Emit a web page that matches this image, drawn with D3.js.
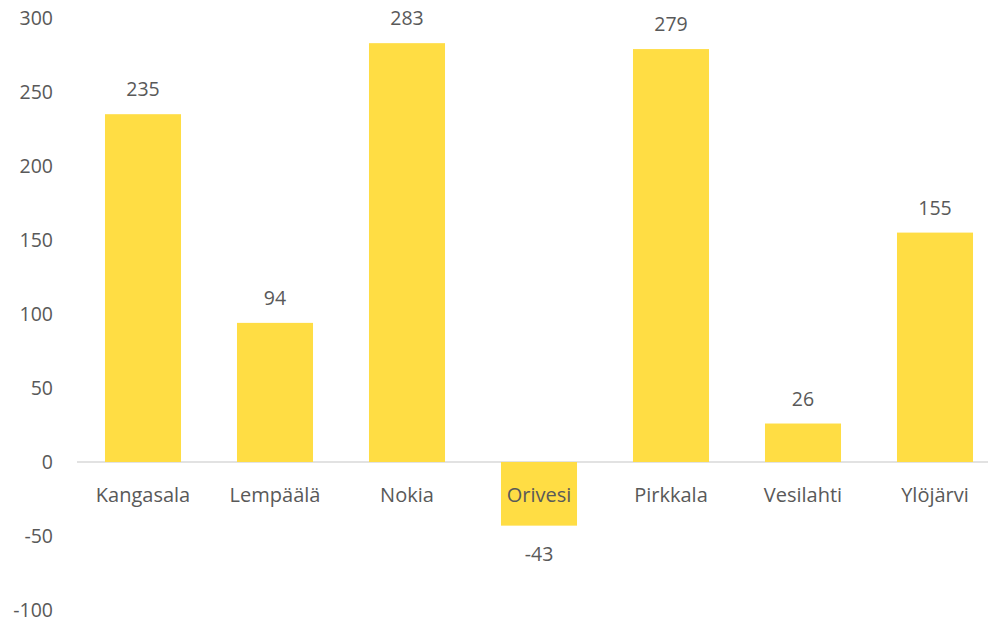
<!DOCTYPE html>
<html>
<head>
<meta charset="utf-8">
<script src="https://cdn.jsdelivr.net/npm/d3@7"></script>
<style>
  body { margin: 0; background: #fff; }
  svg text { font-family: "Open Sans", Lato, sans-serif; fill: #595959; }
</style>
</head>
<body>
<div id="chart"></div>
<script>
// Data
const municipalities = ["Kangasala", "Lempäälä", "Nokia", "Orivesi", "Pirkkala", "Vesilahti", "Ylöjärvi"];
const changes = [235, 94, 283, -43, 279, 26, 155];
const yTicks = [300, 250, 200, 150, 100, 50, 0, -50, -100];

const data = municipalities.map((m, i) => ({ name: m, value: changes[i] }));

// Dimensions
const width = 988, height = 620;
const margin = { top: 18, right: -13, bottom: 10, left: 77 };

const svg = d3.select("#chart")
  .append("svg")
  .attr("width", width)
  .attr("height", height);

// Scales
const xScale = d3.scaleBand()
  .domain(municipalities)
  .range([margin.left, width - margin.right])
  .paddingInner(0.424)
  .paddingOuter(0.212);

const yScale = d3.scaleLinear()
  .domain([-100, 300])
  .range([height - margin.bottom, margin.top]);

// Y tick labels (no axis line)
svg.append("g")
  .selectAll("text")
  .data(yTicks)
  .join("text")
  .attr("x", 53)
  .attr("y", d => yScale(d))
  .attr("dy", "0.35em")
  .attr("text-anchor", "end")
  .style("font-size", "19.5px")
  .text(d => d);

// Zero line
svg.append("line")
  .attr("x1", margin.left)
  .attr("x2", width - margin.right)
  .attr("y1", yScale(0))
  .attr("y2", yScale(0))
  .attr("stroke", "#d9d9d9")
  .attr("stroke-width", 1.5);

// Bars
svg.selectAll(".bar")
  .data(data)
  .join("rect")
  .attr("class", "bar")
  .attr("x", d => xScale(d.name))
  .attr("width", xScale.bandwidth())
  .attr("y", d => yScale(Math.max(0, d.value)))
  .attr("height", d => Math.abs(yScale(d.value) - yScale(0)))
  .attr("fill", "#ffdd44");

// Category labels
svg.append("g")
  .selectAll("text")
  .data(data)
  .join("text")
  .attr("x", d => xScale(d.name) + xScale.bandwidth() / 2)
  .attr("y", yScale(0) + 40)
  .attr("text-anchor", "middle")
  .style("font-size", "20px")
  .text(d => d.name);

// Value labels
svg.append("g")
  .selectAll("text")
  .data(data)
  .join("text")
  .attr("x", d => xScale(d.name) + xScale.bandwidth() / 2)
  .attr("y", d => d.value >= 0 ? yScale(d.value) - 18 : yScale(d.value) + 35)
  .attr("text-anchor", "middle")
  .style("font-size", "19.5px")
  .text(d => d.value);
</script>
</body>
</html>
